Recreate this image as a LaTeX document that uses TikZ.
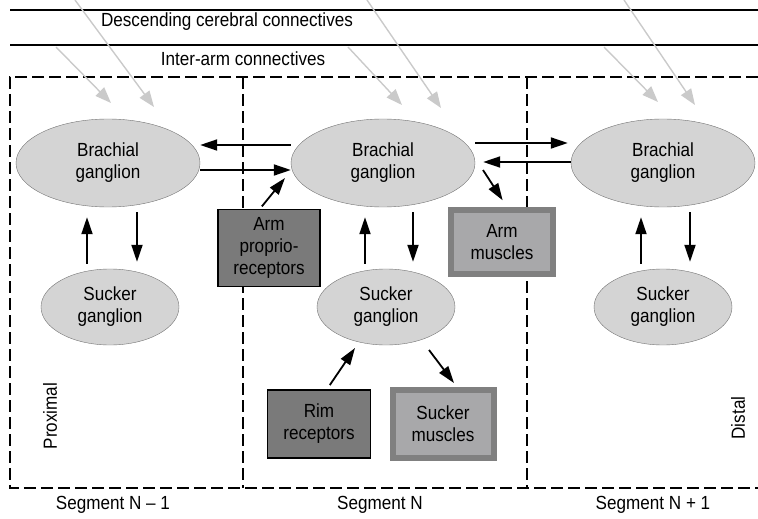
\documentclass[tikz,border=0pt]{standalone}
\usepackage{fontspec}
\setmainfont{Liberation Sans}[FakeStretch=0.9]
\usepackage{tikz}
\usetikzlibrary{arrows.meta,shapes.geometric,positioning}
\definecolor{ganglionGray}{HTML}{D4D4D4}
\definecolor{receptorGray}{HTML}{7A7A7A}
\definecolor{muscleRim}{HTML}{808080}
\definecolor{muscleFill}{HTML}{A8A8AA}
\definecolor{inputGray}{HTML}{CACACA}
\tikzset {
	ganglion/.style={ellipse, draw=black!55, fill=ganglionGray, inner sep=0pt, align=center},
	brachial/.style={ganglion, minimum width=184pt, minimum height=88pt},
	sucker/.style={ganglion, minimum width=138pt, minimum height=76pt},
	receptor/.style={rectangle, draw=black, line width=1.6pt, fill=receptorGray, align=center},
	muscle/.style={rectangle, draw=muscleRim, line width=6pt, fill=muscleFill, align=center},
	link/.style={line width=1.8pt, -{Triangle[length=17pt,width=11pt]}},
	feed/.style={draw=inputGray, line width=1.4pt, -{Triangle[length=16pt,width=12pt]}},
	border/.style={line width=1.5pt, dash pattern=on 12pt off 5pt},
	tract/.style={line width=1.8pt}
}

\begin{document}
\begin{tikzpicture}[x=1pt, y=-1pt, font=\fontsize{19}{22}\selectfont]
					\useasboundingbox (0,0) rectangle (758,519);
					\coordinate (dcL) at (75,0);
					\coordinate (dcN) at (367,0);
					\coordinate (dcR) at (624,0);
					\coordinate (iaL) at (56,47);
					\coordinate (iaN) at (348,47);
					\coordinate (iaR) at (604,47);
					\draw[tract] (10,10) -- (758,10);
					\draw[tract] (10,45) -- (758,45);
					\node (desc) at (227,22) {Descending cerebral connectives};
					\node (inter) at (243,59) {Inter-arm connectives};
					\draw[border] (758,77) -- (10,77) -- (10,488) -- (758,488);
					\draw[border] (243,77) -- (243,488);
					\draw[border] (527,77) -- (527,488);
					\node [brachial] (bgL) at (108,163) {Brachial\\ganglion};
					\node [brachial] (bgN) at (383,163) {Brachial\\ganglion};
					\node [brachial] (bgR) at (663,163) {Brachial\\ganglion};
					\node [sucker] (sgL) at (110,307) {Sucker\\ganglion};
					\node [sucker] (sgN) at (386,307) {Sucker\\ganglion};
					\node [sucker] (sgR) at (663,307) {Sucker\\ganglion};
					\node [receptor, minimum width=102pt, minimum height=77pt] (aprop) at (269,248) {Arm\\proprio-\\receptors};
					\node [muscle, minimum width=102pt, minimum height=64pt] (amus) at (502,242) {Arm\\muscles};
					\node [receptor, minimum width=103pt, minimum height=68pt] (rim) at (319,424) {Rim\\receptors};
					\node [muscle, minimum width=101pt, minimum height=68pt] (smus) at (443,424) {Sucker\\muscles};
					\node [rotate=90] (prox) at (50,416) {Proximal};
					\node [rotate=90] (dist) at (738,418) {Distal};
					\node (segL) at (113,505) {Segment N -- 1};
					\node (segN) at (380,505) {Segment N};
					\node (segR) at (653,505) {Segment N + 1};
					\draw[feed] (dcL) -- ([shift={(46,-56)}]bgL.center);
					\draw[feed] (iaL) -- ([shift={(3,-60)}]bgL.center);
					\draw[feed] (dcN) -- ([shift={(58,-55)}]bgN.center);
					\draw[feed] (iaN) -- ([shift={(19,-58)}]bgN.center);
					\draw[feed] (dcR) -- ([shift={(32,-58)}]bgR.center);
					\draw[feed] (iaR) -- ([shift={(-5,-61)}]bgR.center);
					\draw[link] ([yshift=18pt]bgN.west) -- ([yshift=18pt]bgL.east);
					\draw[link] ([yshift=-7pt]bgL.east) -- ([yshift=-7pt]bgN.west);
					\draw[link, shorten >=3pt] ([yshift=20pt]bgN.east) -- ([yshift=20pt]bgR.west);
					\draw[link, shorten >=8pt] ([yshift=1pt]bgR.west) -- ([yshift=1pt]bgN.east);
					\draw[link, shorten <=3pt] ([xshift=-9pt]aprop.north) -- ([shift={(-98,15)}]bgN.center);
					\draw[link, shorten >=8pt] ([shift={(100,7)}]bgN.center) -- ([xshift=5pt]amus.north);
					\draw[link, shorten <=5pt] ([xshift=8pt]rim.north) -- ([shift={(-31,41)}]sgN.center);
					\draw[link, shorten >=5pt] ([shift={(43,43)}]sgN.center) -- ([xshift=14pt]smus.north);
					\draw[link, shorten <=5pt, shorten >=10pt] ([xshift=-23pt]sgL.north) -- ([xshift=-23pt]sgL.north |- bgL.south);
					\draw[link, shorten <=5pt, shorten >=7pt] ([xshift=27pt]sgL.north |- bgL.south) -- ([xshift=27pt]sgL.north);
					\draw[link, shorten <=5pt, shorten >=10pt] ([xshift=-21pt]sgN.north) -- ([xshift=-21pt]sgN.north |- bgN.south);
					\draw[link, shorten <=5pt, shorten >=7pt] ([xshift=27pt]sgN.north |- bgN.south) -- ([xshift=27pt]sgN.north);
					\draw[link, shorten <=5pt, shorten >=10pt] ([xshift=-22pt]sgR.north) -- ([xshift=-22pt]sgR.north |- bgR.south);
					\draw[link, shorten <=5pt, shorten >=7pt] ([xshift=27pt]sgR.north |- bgR.south) -- ([xshift=27pt]sgR.north);
\end{tikzpicture}
\end{document}
